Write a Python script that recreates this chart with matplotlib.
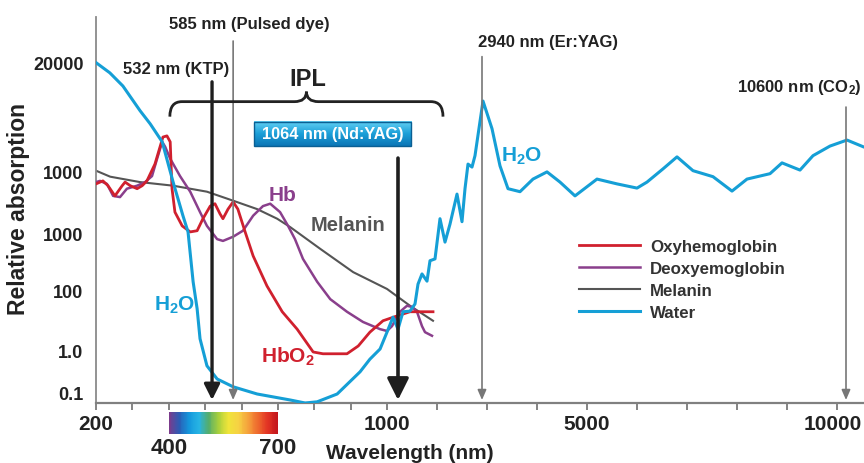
import numpy as np
import matplotlib
matplotlib.use('Agg')
import matplotlib.pyplot as plt
from matplotlib.colors import LinearSegmentedColormap
from matplotlib.path import Path
from matplotlib.patches import PathPatch, Rectangle
from matplotlib.transforms import blended_transform_factory, ScaledTranslation

plt.rcParams['font.family'] = ['Liberation Sans', 'DejaVu Sans']
plt.rcParams['font.weight'] = 'bold'
plt.rcParams['mathtext.fontset'] = 'custom'
plt.rcParams['mathtext.bf'] = 'Liberation Sans:bold'
plt.rcParams['mathtext.rm'] = 'Liberation Sans:bold'
plt.rcParams['mathtext.default'] = 'bf'

# --- data (wavelength in nm, absorption as position on the illustrated scale) ---
water_nm = [200, 238, 274, 321, 349, 382, 412, 439, 453, 467, 478, 486, 505, 533, 577, 643, 734,
            775, 808, 863, 926, 953, 981, 1000, 1120, 1220, 1320, 1460, 1560, 1620, 1700, 1800,
            1860, 1960, 2060, 2160, 2260, 2400, 2500, 2560, 2620, 2700, 2760, 2920, 3100, 3260,
            3420, 3660, 3920, 4200, 4460, 4760, 5200, 5600, 6000, 6200, 6520, 6800, 7120, 7520,
            7900, 8200, 8660, 8900, 9260, 9520, 9860, 10200, 10520]
water_abs = [5.67, 5.50, 5.28, 4.87, 4.65, 4.35, 3.68, 3.12, 2.85, 2.02, 1.57, 1.07, 0.62, 0.40,
             0.27, 0.15, 0.05, 0.0, 0.02, 0.15, 0.52, 0.73, 0.90, 1.18, 1.43, 1.23, 1.52, 1.53,
             1.65, 1.98, 2.15, 2.03, 2.37, 2.40, 3.07, 2.68, 2.98, 3.48, 3.02, 3.57, 3.98, 3.93,
             4.12, 5.03, 4.57, 3.95, 3.57, 3.52, 3.73, 3.85, 3.68, 3.45, 3.73, 3.65, 3.58, 3.68,
             3.90, 4.10, 3.87, 3.77, 3.53, 3.73, 3.82, 4.00, 3.88, 4.12, 4.28, 4.38, 4.27]

oxy_nm = [200, 219, 233, 252, 272, 280, 294, 313, 327, 340, 362, 384, 395, 404, 409, 417, 437,
          459, 478, 494, 514, 527, 541, 549, 563, 577, 590, 610, 632, 670, 712, 753, 797, 824,
          890, 921, 953, 989, 1200, 1460, 1920]
oxy_abs = [3.65, 3.70, 3.62, 3.45, 3.62, 3.68, 3.62, 3.57, 3.62, 3.70, 3.98, 4.43, 4.45, 4.35,
           3.57, 3.18, 2.95, 2.85, 2.87, 3.07, 3.28, 3.32, 3.15, 3.07, 3.23, 3.35, 3.23, 2.85,
           2.45, 1.95, 1.52, 1.23, 0.85, 0.82, 0.82, 0.95, 1.18, 1.37, 1.45, 1.52, 1.52]

deoxy_nm = [200, 211, 230, 247, 266, 285, 313, 335, 354, 368, 382, 390, 404, 431, 459, 486, 505,
            533, 549, 577, 604, 632, 659, 679, 706, 728, 747, 769, 808, 844, 890, 934, 981, 1000,
            1100, 1260, 1400, 1500, 1600, 1700, 1760, 1900]
deoxy_abs = [3.68, 3.70, 3.65, 3.45, 3.43, 3.57, 3.62, 3.68, 3.78, 4.07, 4.35, 4.27, 4.07, 3.78,
             3.52, 3.18, 2.95, 2.73, 2.70, 2.77, 2.87, 3.12, 3.28, 3.32, 3.18, 2.95, 2.73, 2.40,
             2.02, 1.73, 1.52, 1.35, 1.23, 1.20, 1.28, 1.52, 1.62, 1.60, 1.52, 1.28, 1.18, 1.12]

melanin_nm = [200, 239, 321, 412, 505, 577, 643, 698, 734, 816, 907, 1000, 1460, 1920]
melanin_abs = [3.87, 3.77, 3.68, 3.62, 3.52, 3.37, 3.23, 3.07, 2.93, 2.57, 2.18, 1.90, 1.62, 1.37]

ytick_pos = [0.18, 0.87, 1.87, 2.83, 3.85, 5.67]
ytick_labels = ['0.1', '1.0', '100', '1000', '1000', '20000']
xticks = [200, 300, 400, 500, 600, 700, 800, 900, 1000,
          2000, 3000, 4000, 5000, 6000, 7000, 8000, 9000, 10000]
xtick_labels = ['200', '', '', '', '', '', '', '', '1000',
                '', '', '', '5000', '', '', '', '', '10000']

# laser lines: position as drawn (nm) and top of line
laser_x = [519, 577, 1220, 2900, 10180]
laser_top = [5.35, 6.03, 4.08, 5.77, 4.93]
ipl_span = (403, 2120)


# broken wavelength axis: 200-1000 nm stretched, 1000-10000 nm compressed
def fwd(x):
    x = np.asarray(x, float)
    return np.where(x <= 1000, (x - 200) * 291 / 800, 291 + (x - 1000) * 0.05)


def inv(u):
    u = np.asarray(u, float)
    return np.where(u <= 291, 200 + u * 800 / 291, 1000 + (u - 291) / 0.05)


fig = plt.figure(figsize=(8.64, 4.64), dpi=100)
ax = fig.add_axes([96 / 864, 60 / 464, 768 / 864, 386 / 464])
ax.set_xscale('function', functions=(fwd, inv))

red, purple, grey, blue = '#d0202e', '#8a3f8c', '#555555', '#159fd6'
l1, = ax.plot(oxy_nm, oxy_abs, color=red, lw=2.0, zorder=4)
l2, = ax.plot(deoxy_nm, deoxy_abs, color=purple, lw=1.8, zorder=3)
l3, = ax.plot(melanin_nm, melanin_abs, color=grey, lw=1.5, zorder=2)
l4, = ax.plot(water_nm, water_abs, color=blue, lw=2.2, zorder=5)

ax.set_xlim(200, 10540)
ax.set_ylim(0, 6.43)

for s in ['top', 'right']:
    ax.spines[s].set_visible(False)
ax.spines['left'].set_color('#8a8a8a')
ax.spines['left'].set_linewidth(1.3)
ax.spines['bottom'].set_color('#808080')
ax.spines['bottom'].set_linewidth(1.6)

ax.set_xticks(xticks, xtick_labels)
ax.tick_params(axis='x', direction='out', length=5, width=1.2, color='#707070',
               labelsize=15, labelcolor='#222222', pad=3)
ax.set_yticks(ytick_pos, ytick_labels)
ax.tick_params(axis='y', length=0, labelsize=13, labelcolor='#222222', pad=9)
ax.minorticks_off()
last = ax.get_xticklabels()[-1]
last.set_horizontalalignment('right')
last.set_transform(last.get_transform() + ScaledTranslation(0.25, 0, fig.dpi_scale_trans))

ax.set_ylabel('Relative absorption', fontsize=16.5, fontweight='bold', color='#222222')
ax.yaxis.set_label_coords(-0.086, 0.505)
ax.set_xlabel('Wavelength (nm)', fontsize=15, fontweight='bold', color='#222222', va='bottom')
ax.xaxis.set_label_coords(0.409, -0.152)

# laser arrows
styles = [('#1e1e1e', 2.4, 0.94, 0.47), ('#777777', 1.2, 0.6, 0.26),
          ('#1e1e1e', 2.6, 1.3, 0.65), ('#777777', 1.2, 0.6, 0.26), ('#777777', 1.2, 0.6, 0.26)]
for x, top, (c, lw, hl, hw) in zip(laser_x, laser_top, styles):
    ax.annotate('', xy=(x, 0.05), xytext=(x, top),
                arrowprops=dict(arrowstyle=f'-|>,head_length={hl},head_width={hw}',
                                lw=lw, color=c, shrinkA=0, shrinkB=0, mutation_scale=10),
                zorder=6)

tc = '#222222'
ax.text(420, 5.57, '532 nm (KTP)', fontsize=12, ha='center', va='center', color=tc)
ax.text(621, 6.33, '585 nm (Pulsed dye)', fontsize=12, ha='center', va='center', color=tc)
ax.text(4220, 6.02, '2940 nm (Er:YAG)', fontsize=12, ha='center', va='center', color=tc)
ax.text(9240, 5.27, '10600 nm (CO$_2$)', fontsize=12, ha='center', va='center', color=tc)
ax.text(783, 5.40, 'IPL', fontsize=17, ha='center', va='center', color=tc)

# IPL curly brace
fig.canvas.draw()
x0, yb = ax.transData.transform((ipl_span[0], 5.02))
x1, _ = ax.transData.transform((ipl_span[1], 5.02))
xm = (x0 + x1) / 2
r = 12
verts = [(x0, yb - 15), (x0, yb), (x0 + r, yb), (xm - r, yb), (xm, yb), (xm, yb + 10),
         (xm, yb), (xm + r, yb), (x1 - r, yb), (x1, yb), (x1, yb - 15)]
codes = [Path.MOVETO, Path.CURVE3, Path.CURVE3, Path.LINETO, Path.CURVE3, Path.CURVE3,
         Path.CURVE3, Path.CURVE3, Path.LINETO, Path.CURVE3, Path.CURVE3]
verts = ax.transAxes.inverted().transform(verts)
ax.add_patch(PathPatch(Path(verts, codes), fill=False, lw=2.0, edgecolor='#222222',
                       transform=ax.transAxes, clip_on=False, zorder=6))

# Nd:YAG label box with gradient
grad = LinearSegmentedColormap.from_list('box', ['#0b76b6', '#1c9fd8', '#63d0f4'])
bx0, bx1, by0, by1 = 0.2057, 0.4102, 0.6658, 0.728
ax.imshow(np.linspace(0, 1, 50)[:, None], cmap=grad, extent=(bx0, bx1, by0, by1),
          transform=ax.transAxes, aspect='auto', origin='lower', zorder=7)
ax.add_patch(Rectangle((bx0, by0), bx1 - bx0, by1 - by0, transform=ax.transAxes,
                       fill=False, edgecolor='#0a5f93', lw=1.0, zorder=8))
ax.text((bx0 + bx1) / 2, (by0 + by1) / 2, '1064 nm (Nd:YAG)', transform=ax.transAxes,
        fontsize=11.7, color='white', ha='center', va='center', zorder=9)
ax.set_xlim(200, 10540)
ax.set_ylim(0, 6.43)

# curve labels
ax.text(417, 1.65, 'H$_2$O', fontsize=15, color=blue, ha='center', va='center')
ax.text(3700, 4.13, 'H$_2$O', fontsize=15, color=blue, ha='center', va='center')
ax.text(728, 0.78, 'HbO$_2$', fontsize=15, color=red, ha='center', va='center')
ax.text(714, 3.48, 'Hb', fontsize=15, color=purple, ha='center', va='center')
ax.text(893, 2.98, 'Melanin', fontsize=14.5, color=grey, ha='center', va='center')

# visible spectrum strip under the axis
spec = LinearSegmentedColormap.from_list('spec', [
    '#7b3b8c', '#2a5db5', '#1497dc', '#27b4e4', '#55ad6a', '#a8cf3c', '#efe43a',
    '#f6d243', '#f5a33c', '#ee6a2e', '#e23424', '#c3161d'])
sx = np.linspace(400, 700, 121)
blend = blended_transform_factory(ax.transData, ax.transAxes)
ax.pcolormesh(sx, [-0.080, -0.023], ((sx[:-1] + sx[1:]) / 2)[None, :], cmap=spec,
              transform=blend, clip_on=False, shading='flat')
ax.text(400, -0.114, '400', transform=blend, fontsize=16, ha='center', va='center', color=tc)
ax.text(700, -0.114, '700', transform=blend, fontsize=16, ha='center', va='center', color=tc)
ax.set_xlim(200, 10540)
ax.set_ylim(0, 6.43)

ax.legend([l1, l2, l3, l4], ['Oxyhemoglobin', 'Deoxyemoglobin', 'Melanin', 'Water'],
          loc='upper left', bbox_to_anchor=(0.62, 0.442), frameon=False, fontsize=12.2,
          handlelength=3.6, labelspacing=0.41, handletextpad=0.6, borderaxespad=0,
          labelcolor='#333333')

fig.savefig('out.png', dpi=100)
